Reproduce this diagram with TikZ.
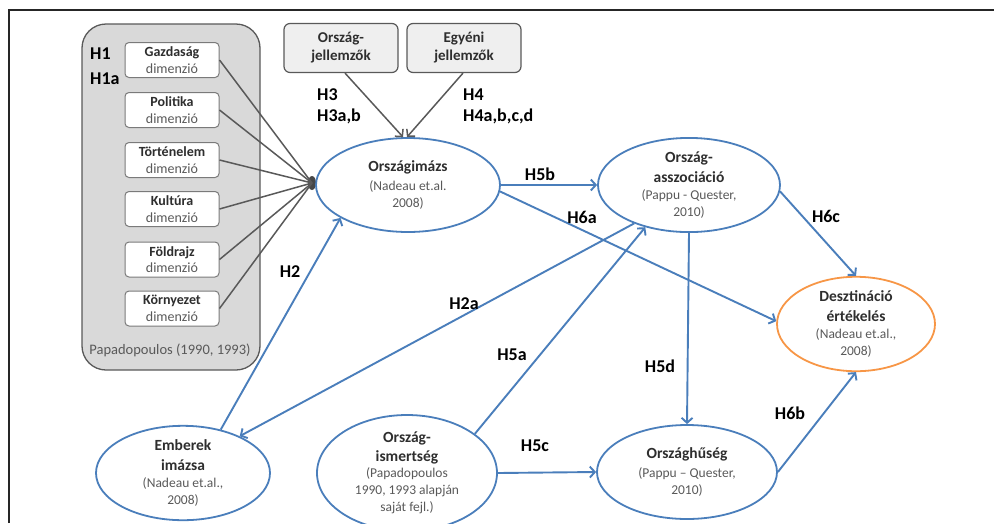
\documentclass[tikz,border=0pt]{standalone}
\usepackage{fontspec}
\setmainfont{Carlito}
\usetikzlibrary{shapes.geometric,arrows.meta}
\definecolor{oblue}{HTML}{4A7EBB}
\definecolor{oorange}{HTML}{F79646}
\definecolor{dgray}{HTML}{595959}
\definecolor{tgray}{HTML}{2E2E2E}
\definecolor{grpfill}{HTML}{D9D9D9}
\definecolor{topfill}{HTML}{EFEFEF}
\begin{document}
\begin{tikzpicture}[x=1pt,y=-1pt,
  dimbox/.style={draw=dgray!80, fill=white, rounded corners=4pt, line width=1pt,
    minimum width=94pt, minimum height=35pt, inner sep=0pt, align=center,
    font=\fontsize{14}{16.5}\selectfont},
  topbox/.style={draw=dgray, fill=topfill, rounded corners=6pt, line width=1.2pt,
    minimum width=114pt, minimum height=49pt, inner sep=0pt, align=center,
    text=tgray, font=\bfseries\fontsize{15}{18}\selectfont},
  ell/.style={ellipse, draw=oblue, line width=1.8pt, inner sep=0pt, align=center,
    font=\fontsize{13.5}{17}\selectfont},
  hlab/.style={anchor=center, inner sep=0pt, text=black, font=\bfseries\fontsize{18}{21}\selectfont},
  hlabw/.style={anchor=west, inner sep=0pt, text=black, font=\bfseries\fontsize{18}{21}\selectfont},
  barrow/.style={draw=oblue, line width=1.9pt, -{Straight Barb[length=5pt,width=11pt]}},
  garrow/.style={draw=dgray, line width=1.5pt, -{Straight Barb[length=5pt,width=11pt]}},
  gline/.style={draw=dgray, line width=1.5pt}
]
\useasboundingbox (0,0) rectangle (994,523);
% frame
\draw[line width=2.5pt, black!85] (9,523) -- (9,10) -- (994,10);

% group box
\node (grp) [draw=dgray, fill=grpfill, rounded corners=24pt, line width=1.3pt,
  minimum width=178pt, minimum height=346pt, inner sep=0pt] at (171,197) {};
\node (papa) [inner sep=0pt, text=dgray, font=\fontsize{14.5}{17}\selectfont] at (170,350) {Papadopoulos (1990, 1993)};
\node (h1) [hlabw] at (90,54) {H1};
\node (h1a) [hlabw] at (90,79) {H1a};

\newcommand{\dimtxt}[1]{{\bfseries\color{tgray}#1}\\{\color{dgray}dimenzió}}
\node (gaz) [dimbox] at (172,60) {\dimtxt{Gazdaság}};
\node (pol) [dimbox] at (172,110) {\dimtxt{Politika}};
\node (tor) [dimbox] at (172,160) {\dimtxt{Történelem}};
\node (kul) [dimbox] at (172,209) {\dimtxt{Kultúra}};
\node (fol) [dimbox] at (172,259.5) {\dimtxt{Földrajz}};
\node (kor) [dimbox] at (172,308.5) {\dimtxt{Környezet}};

% convergence point
\node (conv) [ellipse, fill=dgray!80!black, minimum width=8pt, minimum height=14pt, inner sep=0pt] at (312,183) {};
\foreach \n in {gaz,pol,tor,kul,fol,kor}{
  \draw[gline] (\n.east) -- (conv.center);
}

% top boxes
\node (orj) [topbox] at (341,48) {Ország-\\jellemzők};
\node (egj) [topbox] at (464,48) {Egyéni\\jellemzők};

% ellipses
\newcommand{\etitle}[1]{{\bfseries\color{tgray}\fontsize{15.5}{17}\selectfont #1}}
\node (ki) [ell, minimum width=184pt, minimum height=94pt] at (408,185)
  {\etitle{Országimázs}\\[2pt]{\color{dgray}(Nadeau et.al.}\\{\color{dgray}2008)}};
\node (asz) [ell, minimum width=182pt, minimum height=86pt] at (689,185)
  {\etitle{Ország-}\\[3pt]\etitle{asszociáció}\\[0pt]{\color{dgray}(Pappu - Quester,}\\{\color{dgray}2010)}};
\node (dest) [ell, draw=oorange, minimum width=158pt, minimum height=92pt] at (856,324)
  {\etitle{Desztináció}\\[3pt]\etitle{értékelés}\\[0pt]{\color{dgray}(Nadeau et.al.,}\\{\color{dgray}2008)}};
\node (emb) [ell, minimum width=174pt, minimum height=90pt] at (183,473)
  {\etitle{Emberek}\\[3pt]\etitle{imázsa}\\[0pt]{\color{dgray}(Nadeau et.al.,}\\{\color{dgray}2008)}};
\node (ism) [ell, minimum width=180pt, minimum height=90pt] at (407,473)
  {\etitle{Ország-}\\[2pt]\etitle{ismertség}\\[-1pt]{\color{dgray}(Papadopoulos}\\{\color{dgray}1990, 1993 alapján}\\{\color{dgray}saját fejl.)}};
\node (hus) [ell, minimum width=180pt, minimum height=94pt] at (687,472)
  {\etitle{Országhűség}\\[2pt]{\color{dgray}(Pappu -- Quester,}\\{\color{dgray}2010)}};

% grey arrows
\draw[garrow] (orj.south -| 345,0) -- (403,137);
\draw[garrow] (egj.south -| 463,0) -- (407,137);
\node (h3) [hlabw] at (317,95) {H3};
\node (h3a) [hlabw] at (317,116) {H3a,b};
\node (h4) [hlabw] at (463,95) {H4};
\node (h4a) [hlabw] at (463,116) {H4a,b,c,d};

% blue arrows
\draw[barrow] (ki.east) -- (asz.west);
\draw[barrow] (ki.-4) -- (dest.178);
\draw[barrow] (asz.-4) -- (dest.north);
\draw[barrow] (asz.south) -- (hus.north);
\draw[barrow] (hus.east) -- (dest.south);
\draw[barrow] (ism.east) -- (hus.west);
\draw[barrow] (ism.30) -- (asz.224);
\draw[barrow] (asz.215) -- (emb.33);
\draw[barrow] (emb.49) -- (ki.206);

\node (h5b) [hlab] at (540,174) {H5b};
\node (h6a) [hlab] at (582,217) {H6a};
\node (h6c) [hlab] at (826,216) {H6c};
\node (h2) [hlab] at (290,272) {H2};
\node (h2a) [hlab] at (464,304) {H2a};
\node (h5a) [hlab] at (512,355) {H5a};
\node (h5d) [hlab] at (660,366) {H5d};
\node (h5c) [hlab] at (535,446) {H5c};
\node (h6b) [hlab] at (790,413) {H6b};
\end{tikzpicture}
\end{document}
